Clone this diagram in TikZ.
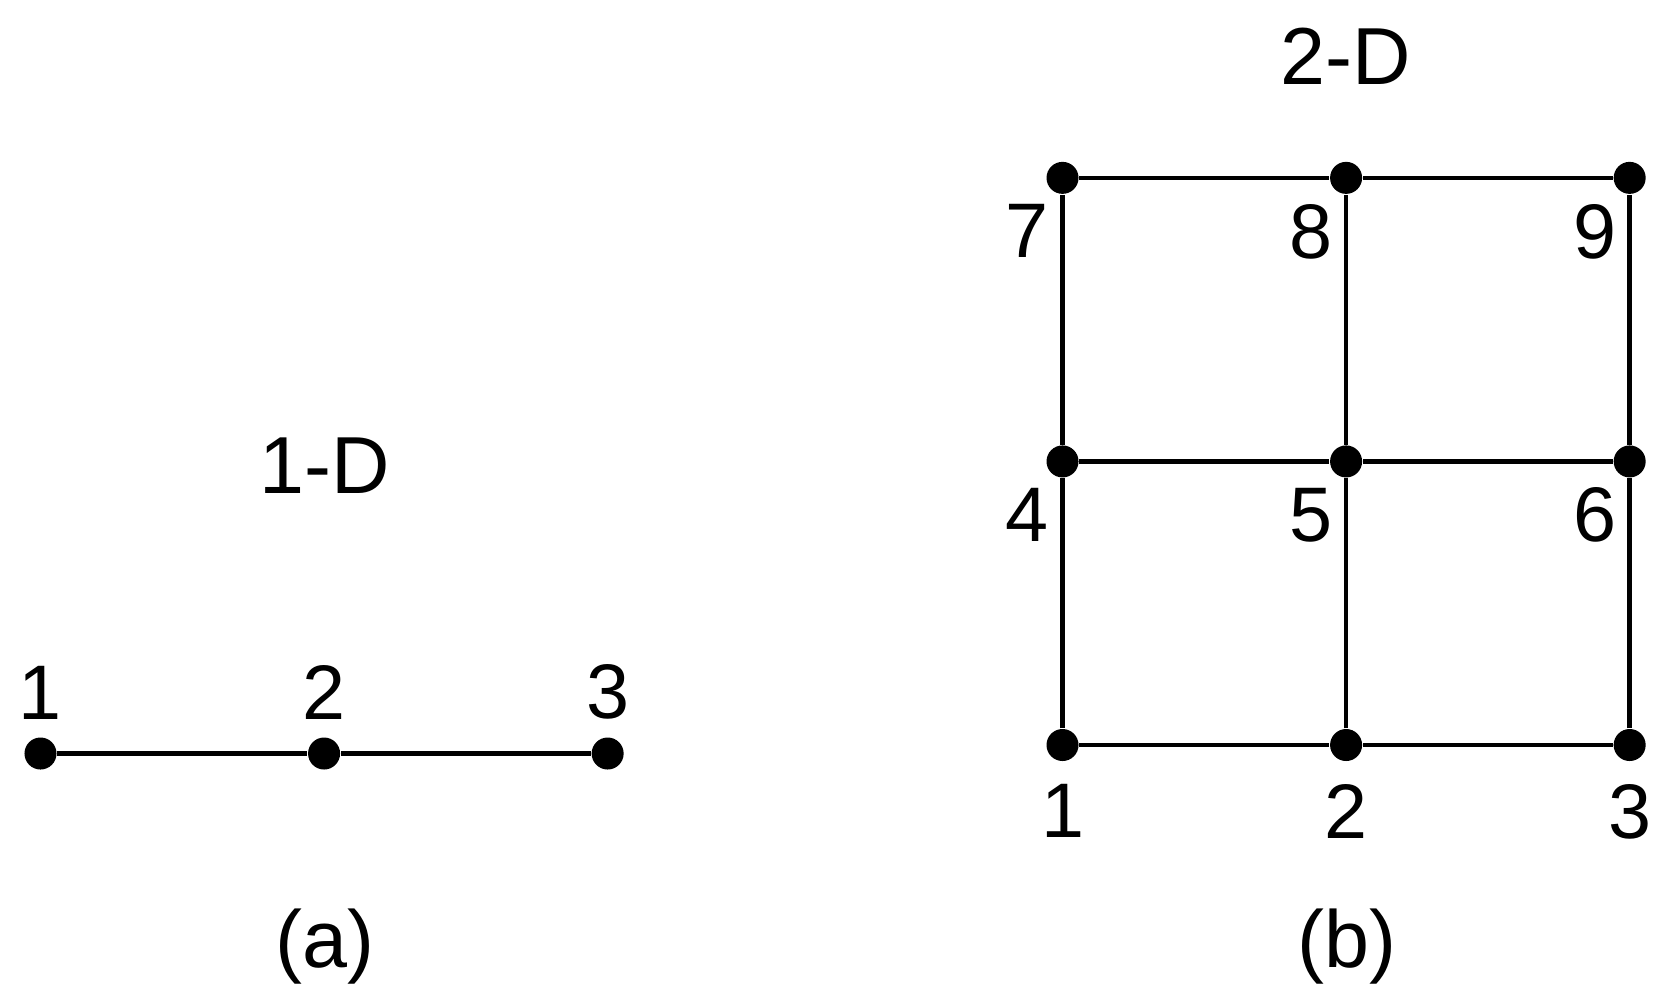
\documentclass[tikz,border=0pt]{standalone}
\usepackage{fontspec}
\setmainfont{Liberation Sans}
\usetikzlibrary{positioning}

\begin{document}
\begin{tikzpicture}[x=0.01cm, y=-0.01cm, node distance=2.5cm,
    dot/.style={circle, fill, inner sep=0pt, minimum size=0.32cm},
    lbl/.style={inner sep=0pt, font=\fontsize{22}{26}\selectfont},
    ttl/.style={inner sep=0pt, font=\fontsize{23}{28}\selectfont},
    edge/.style={line width=1.3pt}]
  \useasboundingbox (0,0) rectangle (1671,1003);
  % 1-D
  \node [dot] (a1) at (40.5,753.5) {};
  \node [right=of a1, dot] (a2) {};
  \node [right=of a2, dot] (a3) {};
  \draw [edge] (a1) -- (a2) -- (a3);
  \node [lbl, above=0.17cm of a1] (la1) {1};
  \node [lbl, above=0.17cm of a2] (la2) {2};
  \node [lbl, above=0.17cm of a3] (la3) {3};
  \node [ttl] (t1) at (325,466) {1-D};
  \node [ttl] (ca) at (325,947) {(a)};
  % 2-D
  \node [dot] (n1) at (1062.5,745) {};
  \node [right=of n1, dot] (n2) {};
  \node [right=of n2, dot] (n3) {};
  \node [above=of n1, dot] (n4) {};
  \node [above=of n2, dot] (n5) {};
  \node [above=of n3, dot] (n6) {};
  \node [above=of n4, dot] (n7) {};
  \node [above=of n5, dot] (n8) {};
  \node [above=of n6, dot] (n9) {};
  \draw [edge] (n1) -- (n2) -- (n3);
  \draw [edge] (n4) -- (n5) -- (n6);
  \draw [edge] (n7) -- (n8) -- (n9);
  \draw [edge] (n1) -- (n4) -- (n7);
  \draw [edge] (n2) -- (n5) -- (n8);
  \draw [edge] (n3) -- (n6) -- (n9);
  \node [lbl, below=0.22cm of n1] (l1) {1};
  \node [lbl, below=0.22cm of n2] (l2) {2};
  \node [lbl, below=0.22cm of n3] (l3) {3};
  \node [lbl, below left=0.14cm and 0.01cm of n4] (l4) {4};
  \node [lbl, below left=0.14cm and 0.01cm of n5] (l5) {5};
  \node [lbl, below left=0.14cm and 0.01cm of n6] (l6) {6};
  \node [lbl, below left=0.14cm and 0.01cm of n7] (l7) {7};
  \node [lbl, below left=0.14cm and 0.01cm of n8] (l8) {8};
  \node [lbl, below left=0.14cm and 0.01cm of n9] (l9) {9};
  \node [ttl] (t2) at (1346,56) {2-D};
  \node [ttl] (cb) at (1347,947) {(b)};
\end{tikzpicture}
\end{document}
